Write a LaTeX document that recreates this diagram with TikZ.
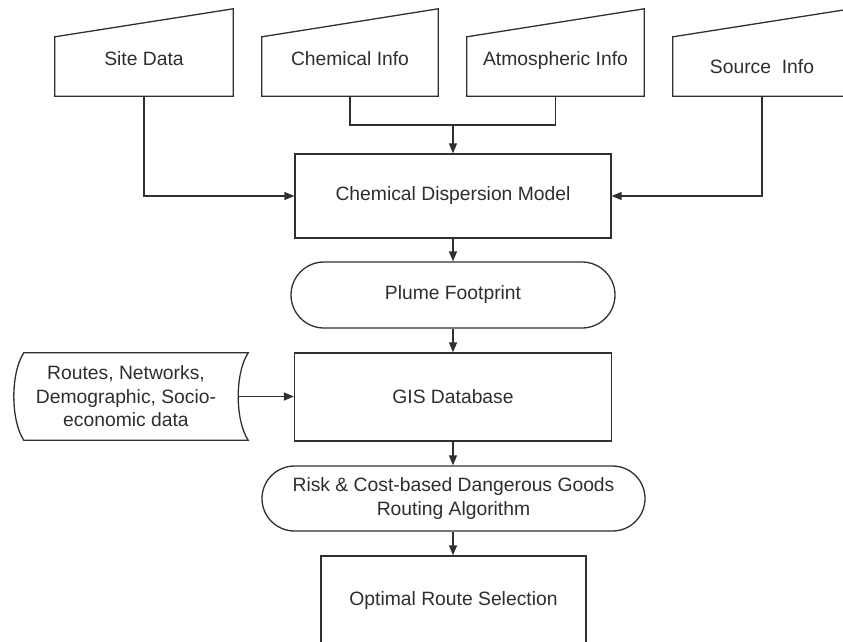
\documentclass[tikz,border=0pt]{standalone}
\usepackage{fontspec}
\setmainfont{Liberation Sans}
\usetikzlibrary{arrows.meta,shapes.misc}
\definecolor{linec}{HTML}{303030}
\definecolor{txtc}{HTML}{2E2E2E}
\begin{document}
\begin{tikzpicture}[x=1pt,y=-1pt,
  base/.style={font=\fontsize{19.3}{23.5}\selectfont, text=txtc, inner sep=0pt},
  ln/.style={draw=linec, line width=1.3pt},
  shp/.style={ln, line join=miter},
  minput/.style={base, minimum width=#1, minimum height=59pt},
  boxn/.style={base, shp, rectangle, minimum width=#1},
  pill/.style={base, shp, rounded rectangle, minimum width=#1},
  arr/.style={ln, -{Triangle[length=10pt,width=8pt]}}]
\useasboundingbox (0,0) rectangle (843,641);
\clip (0,0) rectangle (843,641);
\fill[white] (0,0) rectangle (843,641);

% manual input shapes
\node[minput=178pt, text height=10pt, text depth=13pt] (site) at (144,66.5) {Site Data};
\node[minput=176pt, text height=10pt, text depth=13pt] (chem) at (350,66.5) {Chemical Info};
\node[minput=177pt, text height=10pt, text depth=13pt] (atm) at (555.5,66.5) {Atmospheric Info};
\node[minput=178pt, text height=17pt, text depth=4pt] (src) at (762,66.5) {Source\ \ Info};
\foreach \n in {site,chem,atm,src}
  \draw[shp] (\n.north west) -- (\n.south west) -- (\n.south east)
    -- ([yshift=28pt]\n.north east) -- cycle;

% process boxes
\node[boxn=316pt, minimum height=84pt] (cdm) at (453,196) {Chemical Dispersion Model};
\node[pill=324pt, minimum height=66pt] (plume) at (453,295) {Plume Footprint};
\node[boxn=317pt, minimum height=88pt] (gis) at (453,397) {GIS Database};
\node[pill=383pt, minimum height=65pt, align=center] (risk) at (453.5,498.5)
  {Risk \& Cost-based Dangerous Goods\\Routing Algorithm};
\node[boxn=265pt, minimum height=89pt] (opt) at (453.5,600.5) {Optimal Route Selection};

% stored data
\node[base, minimum width=224pt, minimum height=87pt, align=center] (routes) at (126,396.5)
  {Routes, Networks,\\Demographic, Socio-\\economic data};
\draw[shp] ([xshift=10pt]routes.north west) -- ([xshift=10pt]routes.north east)
  .. controls ([xshift=-3.3pt,yshift=-20pt]routes.north east) and ([xshift=-3.3pt,yshift=20pt]routes.south east) .. ([xshift=10pt]routes.south east)
  -- ([xshift=10pt]routes.south west)
  .. controls ([xshift=-3.3pt,yshift=20pt]routes.south west) and ([xshift=-3.3pt,yshift=-20pt]routes.north west) .. ([xshift=10pt]routes.north west)
  -- cycle;

% connectors
\coordinate (j) at (cdm.north |- 0,125);
\draw[ln] (chem.south) |- (j) -| (atm.south);
\draw[arr] (j) -- (cdm.north);
\draw[arr] (site.south) |- (cdm.west);
\draw[arr] (src.south) |- (cdm.east);
\draw[arr] (cdm.south) -- (plume.north);
\draw[arr] (plume.south) -- (gis.north);
\draw[arr] (gis.south) -- (gis.south |- risk.north);
\draw[arr] (gis.south |- risk.south) -- (gis.south |- opt.north);
\draw[arr] (routes.east) -- (routes.east -| gis.west);
\end{tikzpicture}
\end{document}
